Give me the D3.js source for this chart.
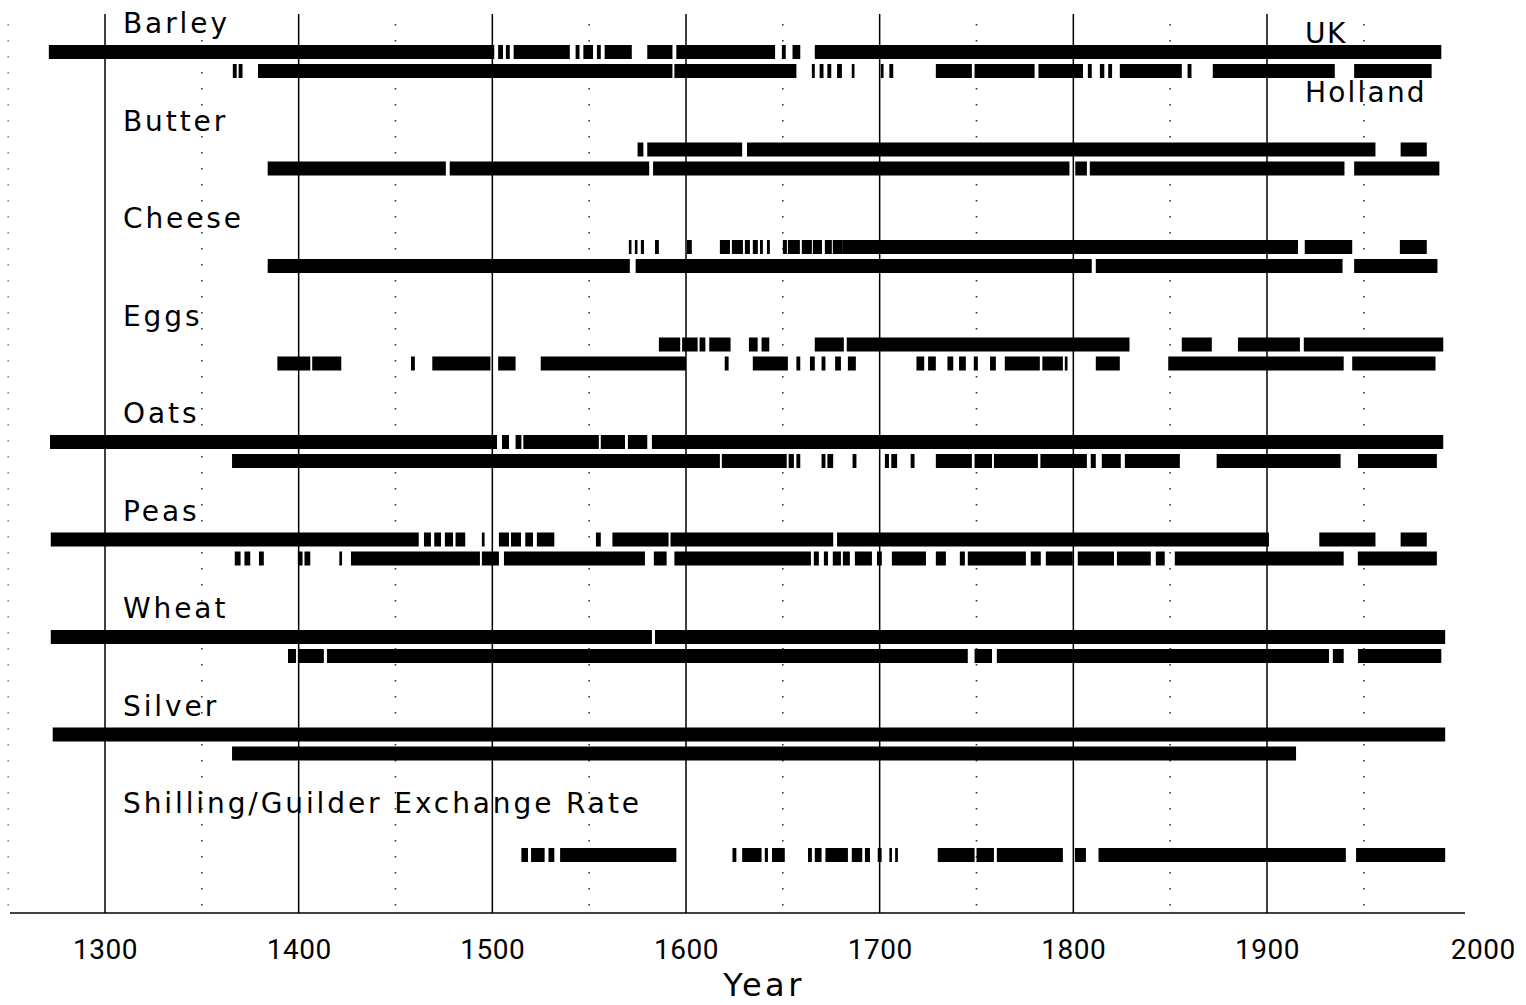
<!DOCTYPE html>
<html>
<head>
<meta charset="utf-8">
<script src="https://cdn.jsdelivr.net/npm/d3@7"></script>
<style>
  body { margin: 0; background: #fff; }
  text { fill: #000; }
</style>
</head>
<body>
<div class="chart"></div>
<script>

var svgWidth = 1526;
var svgHeight = 1005;

// commodities, top to bottom
var categories = ["Barley", "Butter", "Cheese", "Eggs", "Oats", "Peas", "Wheat", "Silver",
  "Shilling/Guilder Exchange Rate"];

var yearTicks = [1300, 1400, 1500, 1600, 1700, 1800, 1900, 2000];
var halfTicks = [1250, 1350, 1450, 1550, 1650, 1750, 1850, 1950];

// periods with data, [start year, end year]
var barleyUK = [[1271, 1501], [1503, 1505.5], [1507, 1509], [1511, 1540], [1543, 1545], [1547, 1552],
  [1554, 1556], [1558, 1572], [1580, 1593], [1595, 1646], [1649.5, 1651.5], [1655, 1659], [1666.5, 1990]];
var barleyHolland = [[1366, 1368], [1369, 1371], [1379, 1593], [1594, 1657], [1665, 1666.5], [1669, 1671],
  [1673, 1675], [1678, 1680.5], [1685.6, 1687], [1700.6, 1702], [1705, 1707], [1729, 1747.6], [1749, 1780],
  [1782, 1805], [1807.5, 1809.5], [1813.7, 1816], [1818, 1820], [1824, 1856], [1859, 1861], [1872, 1935],
  [1945, 1985]];

var butterUK = [[1575, 1578], [1580, 1629], [1631.5, 1956], [1969, 1982.5]];
var butterHolland = [[1384, 1476], [1478, 1581], [1583, 1798], [1801, 1807], [1808.5, 1940], [1945, 1989]];

var cheeseUK = [[1570.5, 1571.6], [1573.6, 1574.7], [1576.7, 1578.3], [1584, 1586], [1600.5, 1603],
  [1617.5, 1622.7], [1623.7, 1629.4], [1630.4, 1633], [1634.5, 1637.1], [1638.2, 1639.7], [1641.8, 1643.3],
  [1650, 1652.1], [1652.6, 1658.8], [1659.8, 1665], [1665.5, 1670.2], [1671.7, 1675.3], [1675.8, 1681],
  [1681, 1916], [1919.5, 1944], [1968.6, 1982.5]];
var cheeseHolland = [[1384, 1571], [1574, 1809.5], [1811.6, 1939], [1945, 1988]];

var eggsUK = [[1586, 1597], [1598, 1606], [1607, 1610], [1612, 1623], [1632.5, 1637], [1639, 1643],
  [1666.5, 1681.5], [1683, 1829], [1856, 1871.5], [1885, 1917], [1919, 1991]];
var eggsHolland = [[1389, 1406], [1407, 1422], [1458, 1460], [1469, 1499], [1503, 1512], [1525, 1600],
  [1620, 1622], [1634.5, 1652.6], [1657, 1659], [1664, 1666.5], [1670, 1672], [1677, 1680],
  [1683.6, 1687.7], [1719, 1723], [1725, 1729], [1735, 1738], [1741, 1744.5], [1748.6, 1750.7],
  [1757, 1760], [1764.6, 1782.7], [1784, 1794.6], [1795.6, 1797], [1811.6, 1824], [1849, 1939.6],
  [1944, 1987]];

var oatsUK = [[1271.6, 1502.4], [1505, 1508.6], [1512, 1515], [1516, 1555], [1556, 1568.5], [1570, 1580],
  [1582.4, 1991]];
var oatsHolland = [[1365.6, 1617.5], [1618.5, 1652], [1653, 1655.7], [1657, 1659], [1670, 1672],
  [1673, 1676], [1686, 1688], [1702.7, 1704.8], [1706, 1709], [1716, 1718], [1729, 1747.6], [1749, 1758],
  [1759, 1781.7], [1783, 1807], [1809, 1811.6], [1814.7, 1824.5], [1826.6, 1855], [1874, 1938],
  [1947, 1987.7]];

var peasUK = [[1272, 1462], [1464.7, 1468.3], [1470, 1473.5], [1475.5, 1479.7], [1481, 1486], [1494.6, 1496],
  [1503.4, 1508.6], [1509.6, 1514.8], [1517, 1521], [1523, 1532], [1553.5, 1556], [1562, 1591],
  [1592, 1676], [1678, 1901], [1927, 1956], [1969, 1982.5]];
var peasHolland = [[1367, 1370], [1372, 1375], [1379.5, 1382], [1399.6, 1402], [1403, 1406], [1421, 1422.4],
  [1427, 1493.6], [1494.6, 1503.4], [1506, 1578.8], [1583.4, 1590], [1594, 1664.5], [1666, 1668.6],
  [1671.2, 1673.3], [1675.8, 1680], [1681, 1684.6], [1687.2, 1696], [1698.6, 1701.1], [1706.3, 1723.9],
  [1729, 1734.2], [1741.4, 1744], [1745.5, 1775.5], [1778, 1783.2], [1785.8, 1799.7], [1802.3, 1821],
  [1822.5, 1840], [1842.6, 1847.2], [1852.4, 1939.6], [1946.9, 1987.7]];

var wheatUK = [[1272, 1582.4], [1584, 1992]];
var wheatHolland = [[1394.5, 1398.6], [1399.6, 1413], [1414.6, 1745.5], [1749, 1758], [1760.5, 1932],
  [1934, 1939.6], [1947, 1990]];

var silverUK = [[1273, 1992]];
var silverHolland = [[1365.6, 1915]];

var exchangeRate = [[1515, 1518.4], [1520, 1527], [1529, 1532], [1535, 1595], [1624, 1626], [1629, 1639],
  [1640.7, 1642.3], [1644.4, 1651], [1663, 1665], [1666.5, 1670], [1672, 1683.6], [1685.6, 1691],
  [1692.4, 1695], [1699, 1701], [1705, 1706.3], [1708, 1709.4], [1730, 1749], [1750, 1759],
  [1760.5, 1794.6], [1800.8, 1806.5], [1813, 1940.7], [1946, 1992]];

// one row per series
var series = [
  { cat: "Barley", row: "UK", spans: barleyUK },
  { cat: "Barley", row: "Holland", spans: barleyHolland },
  { cat: "Butter", row: "UK", spans: butterUK },
  { cat: "Butter", row: "Holland", spans: butterHolland },
  { cat: "Cheese", row: "UK", spans: cheeseUK },
  { cat: "Cheese", row: "Holland", spans: cheeseHolland },
  { cat: "Eggs", row: "UK", spans: eggsUK },
  { cat: "Eggs", row: "Holland", spans: eggsHolland },
  { cat: "Oats", row: "UK", spans: oatsUK },
  { cat: "Oats", row: "Holland", spans: oatsHolland },
  { cat: "Peas", row: "UK", spans: peasUK },
  { cat: "Peas", row: "Holland", spans: peasHolland },
  { cat: "Wheat", row: "UK", spans: wheatUK },
  { cat: "Wheat", row: "Holland", spans: wheatHolland },
  { cat: "Silver", row: "UK", spans: silverUK },
  { cat: "Silver", row: "Holland", spans: silverHolland },
  { cat: "Shilling/Guilder Exchange Rate", row: "Rate", spans: exchangeRate }
];

var rowOffset = { UK: 19, Holland: 38, Rate: 42 };
var barHeight = 14;

var plotTop = 14;
var plotBottom = 913;

var svg = d3.select(".chart")
  .append("svg")
  .attr("width", svgWidth)
  .attr("height", svgHeight);

var x = d3.scaleLinear()
  .domain([1300, 1900])
  .range([105, 1267]);

// label baseline of each commodity group
var y = d3.scaleLinear()
  .domain([0, categories.length - 1])
  .range([33, 813]);

// dotted half-century lines
svg.append("g")
  .selectAll("line")
  .data(halfTicks)
  .enter()
  .append("line")
  .attr("x1", d => x(d))
  .attr("x2", d => x(d))
  .attr("y1", plotTop + 10)
  .attr("y2", plotBottom - 6)
  .attr("stroke", "#000")
  .attr("stroke-width", 1.6)
  .attr("stroke-dasharray", "1.6,14.4")
  .attr("opacity", d => d === 1250 ? 0.45 : 0.8);

// solid century lines
svg.append("g")
  .selectAll("line")
  .data(yearTicks.filter(d => d < 2000))
  .enter()
  .append("line")
  .attr("x1", d => x(d))
  .attr("x2", d => x(d))
  .attr("y1", plotTop)
  .attr("y2", plotBottom)
  .attr("stroke", "#000")
  .attr("stroke-width", 1.5);

// bottom axis
var bottomAxis = d3.axisBottom(x)
  .tickValues(yearTicks)
  .tickSize(0)
  .tickPadding(26)
  .tickFormat(d3.format("d"));

var xAxis = svg.append("g")
  .attr("transform", `translate(0, ${plotBottom})`)
  .call(bottomAxis);

xAxis.select(".domain").remove();
xAxis.selectAll("text")
  .attr("font-family", "Roboto, sans-serif")
  .attr("font-size", 28)
  .attr("letter-spacing", 0.5)
  .attr("fill", "#000");
// last label sits a bit right of its position
xAxis.selectAll("text").filter(d => d === 2000).attr("dx", 22);

svg.append("line")
  .attr("x1", 10)
  .attr("x2", 1465)
  .attr("y1", plotBottom)
  .attr("y2", plotBottom)
  .attr("stroke", "#000")
  .attr("stroke-width", 1.5);

svg.append("text")
  .attr("x", 764)
  .attr("y", 996)
  .attr("text-anchor", "middle")
  .attr("font-family", "DejaVu Sans, sans-serif")
  .attr("font-size", 32)
  .attr("letter-spacing", 3.5)
  .text("Year");

// commodity labels
svg.append("g")
  .selectAll("text")
  .data(categories)
  .enter()
  .append("text")
  .attr("x", 123)
  .attr("y", (d, i) => y(i))
  .attr("font-family", "DejaVu Sans, sans-serif")
  .attr("font-size", 28)
  .attr("letter-spacing", 2.9)
  .text(d => d);

// row legend
svg.append("text")
  .attr("x", 1305)
  .attr("y", 43)
  .attr("font-family", "DejaVu Sans, sans-serif")
  .attr("font-size", 28)
  .attr("letter-spacing", 1.5)
  .text("UK");

svg.append("text")
  .attr("x", 1305)
  .attr("y", 102)
  .attr("font-family", "DejaVu Sans, sans-serif")
  .attr("font-size", 28)
  .attr("letter-spacing", 2.2)
  .text("Holland");

// data bars
var rows = svg.append("g")
  .selectAll("g")
  .data(series)
  .enter()
  .append("g")
  .attr("transform", d => `translate(0, ${y(categories.indexOf(d.cat)) + rowOffset[d.row] - barHeight / 2})`);

rows.selectAll("rect")
  .data(d => d.spans)
  .enter()
  .append("rect")
  .attr("x", d => x(d[0]))
  .attr("y", 0)
  .attr("width", d => Math.max(x(d[1]) - x(d[0]), 2.6))
  .attr("height", barHeight)
  .attr("fill", "#000");

</script>
</body>
</html>
